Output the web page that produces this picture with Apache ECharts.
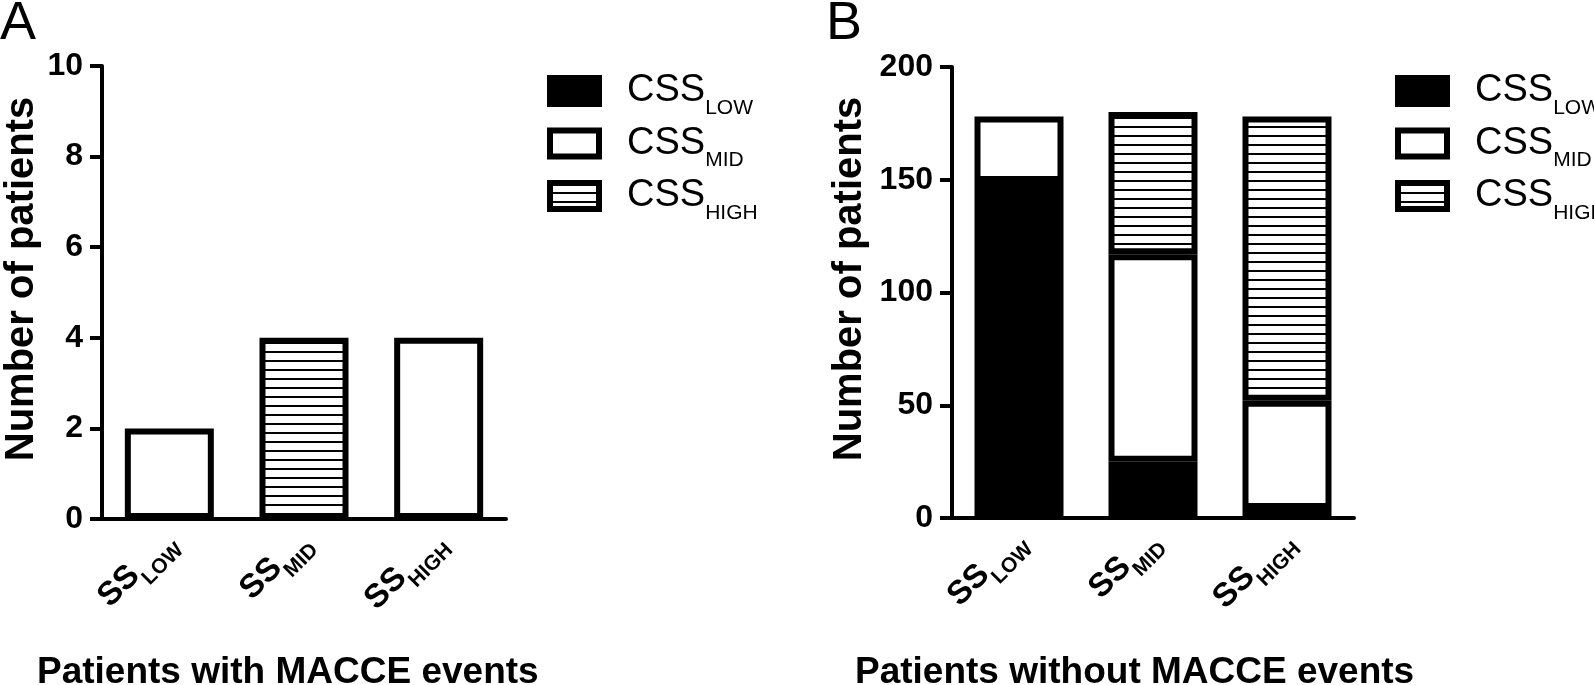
<!DOCTYPE html>
<html>
<head>
<meta charset="utf-8">
<script src="https://cdn.jsdelivr.net/npm/echarts@6/dist/echarts.min.js"></script>
<style>
html,body{margin:0;padding:0;background:#fff;}
#chart{width:1594px;height:685px;}
</style>
</head>
<body>
<div id="chart"></div>
<script>
// ---- data ----
const categories = ['SS_LOW', 'SS_MID', 'SS_HIGH'];
const seriesNames = ['CSS_LOW', 'CSS_MID', 'CSS_HIGH'];
// Panel A: patients with MACCE events
const withLow  = [null, null, null];
const withMid  = [2, null, 4];
const withHigh = [null, 4, null];
// Panel B: patients without MACCE events
const withoutLow  = [149, 25, 4];
const withoutMid  = [29, 92, 48];
const withoutHigh = [null, 63, 126];
const yTicksA = {min: 0, max: 10, interval: 2};
const yTicksB = {min: 0, max: 200, interval: 50};
const titleA = 'Patients with MACCE events';
const titleB = 'Patients without MACCE events';
const yName = 'Number of patients';

// ---- styles ----
const FONT = "'Liberation Sans', Arial, Helvetica, sans-serif";
function hatchPattern() {
  const c = document.createElement('canvas');
  c.width = 16; c.height = 9;
  const ctx = c.getContext('2d');
  ctx.fillStyle = '#fff'; ctx.fillRect(0, 0, 16, 9);
  ctx.fillStyle = '#000'; ctx.fillRect(0, 0, 16, 2);
  return c;
}
const fills = ['#000', '#fff', {image: hatchPattern(), repeat: 'repeat'}];
const subFmt = s => { const p = s.split('_'); return '{a|' + p[0] + '}{b|' + p[1] + '}'; };

const chart = echarts.init(document.getElementById('chart'), null, {renderer: 'canvas'});

const grids = [
  {left: 102, top: 66, width: 404, height: 453},
  {left: 952, top: 67, width: 402, height: 451}
];

function xAxis(i) {
  return {
    type: 'category', gridIndex: i, data: categories,
    axisLine: {lineStyle: {color: '#000', width: 4}},
    axisTick: {alignWithLabel: true, length: 13, lineStyle: {color: '#000', width: 4}},
    axisLabel: {
      rotate: 45, margin: 17, formatter: subFmt, color: '#000',
      rich: {
        a: {fontFamily: FONT, fontSize: 33, fontWeight: 'bold', lineHeight: 52, verticalAlign: 'middle', color: '#000'},
        b: {fontFamily: FONT, fontSize: 21, fontWeight: 'bold', verticalAlign: 'bottom', color: '#000'}
      }
    },
    splitLine: {show: false}
  };
}
function yAxis(i, t, gap) {
  return {
    type: 'value', gridIndex: i, min: t.min, max: t.max, interval: t.interval,
    name: yName, nameLocation: 'middle', nameGap: gap,
    nameTextStyle: {fontFamily: FONT, fontSize: 40, fontWeight: 'bold', color: '#000', padding: [0, 0, 0, 27]},
    axisLine: {show: true, lineStyle: {color: '#000', width: 4}},
    axisTick: {show: true, length: 12, lineStyle: {color: '#000', width: 4}},
    axisLabel: {margin: 19, fontFamily: FONT, fontSize: 32, fontWeight: 'bold', color: '#000'},
    splitLine: {show: false}
  };
}
function barSeries(name, data, axisIdx, k) {
  return {
    name: name, type: 'bar', xAxisIndex: axisIdx, yAxisIndex: axisIdx,
    stack: 'p' + axisIdx, data: data, barWidth: 89,
    itemStyle: {color: fills[k], borderColor: '#000', borderWidth: 6},
    emphasis: {disabled: true}
  };
}
function legend(left) {
  return {
    data: seriesNames, orient: 'vertical', left: left, top: 72, padding: 0,
    itemWidth: 49, itemHeight: 26, itemGap: 6, icon: 'rect', selectedMode: false,
    itemStyle: {borderColor: '#000', borderWidth: 6},
    formatter: subFmt,
    textStyle: {
      rich: {
        a: {fontFamily: FONT, fontSize: 38, lineHeight: 55, verticalAlign: 'middle', color: '#000', padding: [0, 0, 0, 23]},
        b: {fontFamily: FONT, fontSize: 21, verticalAlign: 'bottom', color: '#000'}
      }
    }
  };
}

const dataA = [withLow, withMid, withHigh];
const dataB = [withoutLow, withoutMid, withoutHigh];
const series = [];
seriesNames.forEach((n, k) => series.push(barSeries(n, dataA[k], 0, k)));
seriesNames.forEach((n, k) => series.push(barSeries(n, dataB[k], 1, k)));

chart.setOption({
  animation: false,
  backgroundColor: '#fff',
  title: [
    {text: 'A', left: 0, top: -3, padding: 0, textStyle: {fontFamily: FONT, fontSize: 54, fontWeight: 'normal', color: '#000'}},
    {text: 'B', left: 826, top: -3, padding: 0, textStyle: {fontFamily: FONT, fontSize: 54, fontWeight: 'normal', color: '#000'}},
    {text: titleA, left: 37, top: 654, padding: 0, textStyle: {fontFamily: FONT, fontSize: 37, fontWeight: 'bold', color: '#000'}},
    {text: titleB, left: 855, top: 654, padding: 0, textStyle: {fontFamily: FONT, fontSize: 37, fontWeight: 'bold', color: '#000'}}
  ],
  legend: [legend(547), legend(1395)],
  grid: grids,
  xAxis: [xAxis(0), xAxis(1)],
  yAxis: [yAxis(0, yTicksA, 60), yAxis(1, yTicksB, 82)],
  series: series
});
</script>
</body>
</html>
